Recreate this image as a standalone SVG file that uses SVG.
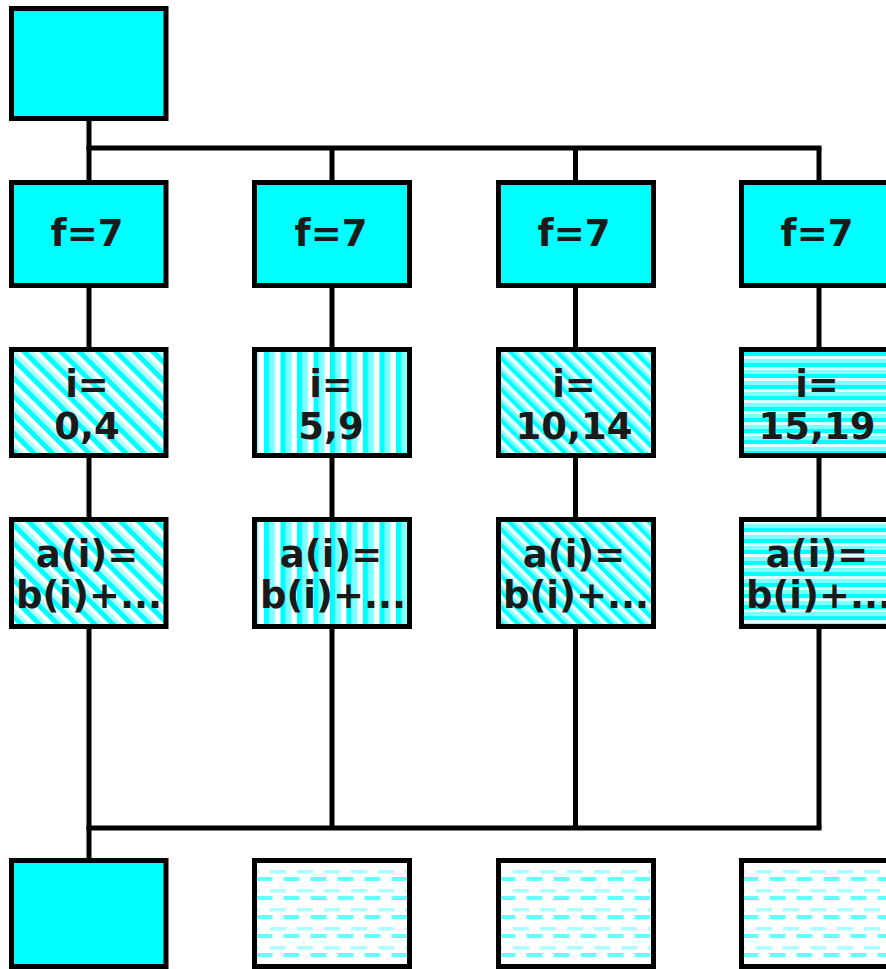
<svg xmlns="http://www.w3.org/2000/svg" width="886" height="969" viewBox="0 0 886 969">
<defs>
<pattern id="diagA" patternUnits="userSpaceOnUse" width="13" height="13" patternTransform="rotate(-45)">
<rect width="13" height="13" fill="#ffffff"/>
<rect x="0" width="5" height="13" fill="#00ffff"/>
<rect x="5" width="4" height="13" fill="#b0ffff"/>
</pattern>
<pattern id="diagB" patternUnits="userSpaceOnUse" width="11" height="11" patternTransform="rotate(-45)">
<rect width="11" height="11" fill="#e6ffff"/>
<rect x="0" width="4" height="11" fill="#00ffff"/>
<rect x="4" width="3" height="11" fill="#80ffff"/>
</pattern>
<pattern id="vert" patternUnits="userSpaceOnUse" width="16.5" height="10">
<rect width="16.5" height="10" fill="#ffffff"/>
<rect x="0" width="5.5" height="10" fill="#00ffff"/>
<rect x="5.5" width="5.5" height="10" fill="#80ffff"/>
</pattern>
<pattern id="horiz" patternUnits="userSpaceOnUse" width="10" height="11">
<rect width="10" height="11" fill="#80ffff"/>
<rect y="0" width="10" height="4" fill="#00ffff"/>
<rect y="4" width="10" height="3" fill="#e0ffff"/>
</pattern>
<pattern id="dash" patternUnits="userSpaceOnUse" width="27" height="19" x="0" y="870">
<rect width="27" height="19" fill="#ffffff"/>
<rect x="0" y="0" width="16" height="3.5" fill="#aaffff"/>
<rect x="13.5" y="7" width="13.5" height="4" fill="#66ffff"/>
<rect x="0" y="7" width="2.5" height="4" fill="#66ffff"/>
</pattern>
</defs>
<style>
.box{stroke:#000;stroke-width:5}
.solid{fill:#00ffff}
.conn{stroke:#000;stroke-width:5;fill:none}
text{font-family:"DejaVu Sans",Verdana,sans-serif;font-weight:bold;font-size:37px;fill:#1a1a1a;text-anchor:middle}
</style>

<g id="connectors">
<line class="conn" x1="89" y1="120" x2="89" y2="860"/>
<line class="conn" x1="86.5" y1="148" x2="821.5" y2="148"/>
<line class="conn" x1="86.5" y1="828" x2="821.5" y2="828"/>
<line class="conn" x1="332" y1="148" x2="332" y2="828"/>
<line class="conn" x1="575.5" y1="148" x2="575.5" y2="828"/>
<line class="conn" x1="819" y1="148" x2="819" y2="828"/>
</g>

<g id="start"><rect class="box solid" x="11.5" y="8.5" width="154.5" height="110"/></g>

<g id="f1"><rect class="box solid" x="11.5" y="182.5" width="154.5" height="103"/><text x="87" y="246">f=7</text></g>
<g id="f2"><rect class="box solid" x="254.5" y="182.5" width="155" height="103"/><text x="331" y="246">f=7</text></g>
<g id="f3"><rect class="box solid" x="498.5" y="182.5" width="155" height="103"/><text x="574" y="246">f=7</text></g>
<g id="f4"><rect class="box solid" x="741.5" y="182.5" width="155" height="103"/><text x="817" y="246">f=7</text></g>

<g id="i1"><rect x="11.5" y="349.5" width="154.5" height="106" fill="url(#diagA)"/><text x="87" y="397">i=</text><text x="87" y="439">0,4</text><rect class="box" fill="none" x="11.5" y="349.5" width="154.5" height="106"/></g>
<g id="i2"><rect x="254.5" y="349.5" width="155" height="106" fill="url(#vert)"/><text x="331" y="397">i=</text><text x="331" y="439">5,9</text><rect class="box" fill="none" x="254.5" y="349.5" width="155" height="106"/></g>
<g id="i3"><rect x="498.5" y="349.5" width="155" height="106" fill="url(#diagB)"/><text x="574" y="397">i=</text><text x="574" y="439">10,14</text><rect class="box" fill="none" x="498.5" y="349.5" width="155" height="106"/></g>
<g id="i4"><rect x="741.5" y="349.5" width="155" height="106" fill="url(#horiz)"/><text x="817" y="397">i=</text><text x="817" y="439">15,19</text><rect class="box" fill="none" x="741.5" y="349.5" width="155" height="106"/></g>

<g id="a1"><rect x="11.5" y="519.5" width="154.5" height="107" fill="url(#diagA)"/><text x="87" y="567">a(i)=</text><text x="89" y="608">b(i)+...</text><rect class="box" fill="none" x="11.5" y="519.5" width="154.5" height="107"/></g>
<g id="a2"><rect x="254.5" y="519.5" width="155" height="107" fill="url(#vert)"/><text x="331" y="567">a(i)=</text><text x="333" y="608">b(i)+...</text><rect class="box" fill="none" x="254.5" y="519.5" width="155" height="107"/></g>
<g id="a3"><rect x="498.5" y="519.5" width="155" height="107" fill="url(#diagB)"/><text x="574" y="567">a(i)=</text><text x="576" y="608">b(i)+...</text><rect class="box" fill="none" x="498.5" y="519.5" width="155" height="107"/></g>
<g id="a4"><rect x="741.5" y="519.5" width="155" height="107" fill="url(#horiz)"/><text x="817" y="567">a(i)=</text><text x="819" y="608">b(i)+...</text><rect class="box" fill="none" x="741.5" y="519.5" width="155" height="107"/></g>

<g id="end1"><rect class="box solid" x="11.5" y="860.5" width="154.5" height="106"/></g>
<g id="end2"><rect class="box" fill="url(#dash)" x="254.5" y="860.5" width="155" height="106"/></g>
<g id="end3"><rect class="box" fill="url(#dash)" x="498.5" y="860.5" width="155" height="106"/></g>
<g id="end4"><rect class="box" fill="url(#dash)" x="741.5" y="860.5" width="155" height="106"/></g>
</svg>
